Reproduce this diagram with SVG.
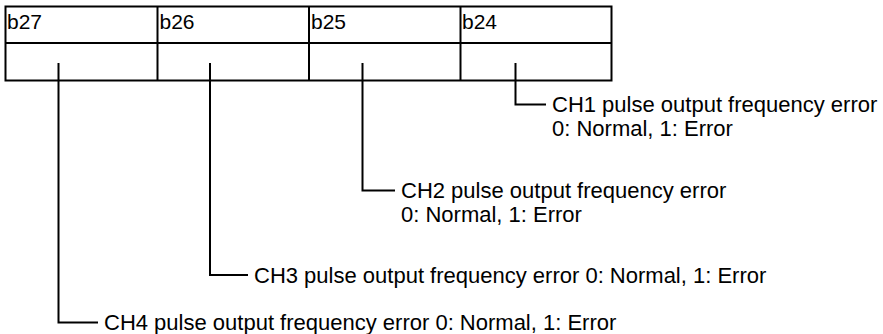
<svg xmlns="http://www.w3.org/2000/svg" width="883" height="334" viewBox="0 0 883 334">
<style>
.t{font-family:"Liberation Sans",Arial,sans-serif;font-size:21px;fill:#000}
.c{font-family:"Liberation Sans",Arial,sans-serif;font-size:22px;fill:#000}
.ln{stroke:#000;stroke-width:2;fill:none}
</style>
<rect width="883" height="334" fill="#fff"/>
<g id="register">
<rect class="ln" x="5.5" y="6.5" width="606" height="74"/>
<line class="ln" x1="5.5" y1="43" x2="611.5" y2="43"/>
<line class="ln" x1="157.5" y1="6.5" x2="157.5" y2="80.5"/>
<line class="ln" x1="309" y1="6.5" x2="309" y2="80.5"/>
<line class="ln" x1="460.5" y1="6.5" x2="460.5" y2="80.5"/>
<text class="t" x="7" y="29">b27</text>
<text class="t" x="159.5" y="29">b26</text>
<text class="t" x="311" y="29">b25</text>
<text class="t" x="462" y="29">b24</text>
</g>
<g id="connectors">
<polyline class="ln" points="515.5,63 515.5,104.5 546,104.5"/>
<polyline class="ln" points="362.5,63 362.5,190.5 395,190.5"/>
<polyline class="ln" points="210,63 210,275 248,275"/>
<polyline class="ln" points="58.5,63 58.5,322.5 98,322.5"/>
</g>
<g id="ch1"><text class="c" x="552" y="112">CH1 pulse output frequency error</text><text class="c" x="552" y="136">0: Normal, 1: Error</text></g>
<g id="ch2"><text class="c" x="401" y="198">CH2 pulse output frequency error</text><text class="c" x="401" y="222">0: Normal, 1: Error</text></g>
<g id="ch3"><text class="c" x="254" y="282.5">CH3 pulse output frequency error 0: Normal, 1: Error</text></g>
<g id="ch4"><text class="c" x="104" y="330">CH4 pulse output frequency error 0: Normal, 1: Error</text></g>
</svg>
